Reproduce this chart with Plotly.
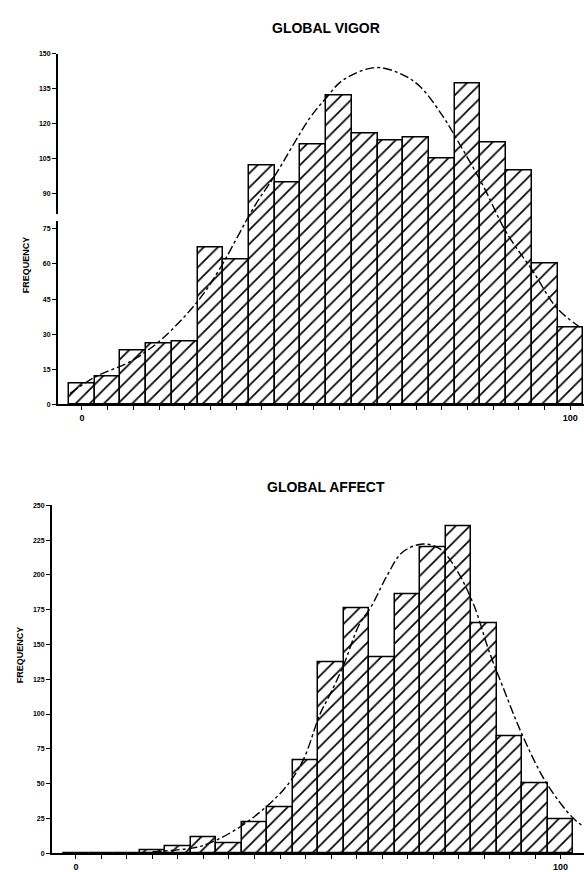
import plotly.graph_objects as go

# ---- data ----
BINS = list(range(20))                      # 20 class intervals, 0 .. 100
TICK_TEXT = ["0"] + [""] * 18 + ["100"]

VIGOR_FREQ = [9, 12, 23, 26, 27, 67, 62, 102, 95, 111,
              132, 116, 113, 114, 105, 137, 112, 100, 60, 33]
VIGOR_CURVE_X = [-0.47, 0.5, 1.93, 3.1, 4.5, 5.3, 6.73, 7.5, 8.87, 9.5,
                 10.16, 11.4, 12.37, 13.15, 14.05, 14.6, 15.6, 16.5, 17.55, 18.47, 19.4]
VIGOR_CURVE_Y = [4.6, 11.6, 18.6, 27.8, 44, 56.8, 85, 97.7, 122.5, 131,
                 138.7, 144, 141.5, 135.9, 123, 113, 93.6, 73.7, 56.8, 41.2, 32.8]

AFFECT_FREQ = [0, 0, 0, 2, 5, 11, 7, 22, 33, 67,
               137, 176, 141, 186, 220, 235, 165, 84, 50, 24]
AFFECT_CURVE_X = [3.0, 4.6, 5.25, 6.56, 8.13, 8.9, 9.57, 9.96, 10.5, 11.1,
                  11.6, 12.2, 12.8, 13.6, 14.27, 14.9, 15.6, 16.2, 16.7, 17.54, 18.46, 19.5, 19.92]
AFFECT_CURVE_Y = [1, 3.8, 7.3, 20.4, 45.4, 66.7, 100, 114, 135.5, 164,
                  178, 199.6, 216.3, 222.2, 218.7, 204.4, 178.3, 145, 121.3, 83.3, 50, 25, 19]

VIGOR_YTICKS = list(range(0, 151, 15))
AFFECT_YTICKS = list(range(0, 251, 25))

W, H = 584, 872

def px_x(p):
    return p / W

def px_y(p):
    return (H - p) / H

fig = go.Figure()

bar_style = dict(
    marker=dict(color="white",
                line=dict(color="black", width=1.5),
                pattern=dict(shape="/", fgcolor="black", bgcolor="white",
                             size=10, solidity=0.17, fgopacity=1)),
    width=1.0, showlegend=False, hoverinfo="x+y",
)
curve_style = dict(mode="lines", line=dict(color="black", width=1.4, dash="dashdot", shape="spline"),
                   showlegend=False, hoverinfo="skip")

fig.add_trace(go.Bar(x=BINS, y=VIGOR_FREQ, xaxis="x", yaxis="y", **bar_style))
fig.add_trace(go.Scatter(x=VIGOR_CURVE_X, y=VIGOR_CURVE_Y, xaxis="x", yaxis="y", **curve_style))
fig.add_trace(go.Bar(x=BINS, y=AFFECT_FREQ, xaxis="x2", yaxis="y2", **bar_style))
fig.add_trace(go.Scatter(x=AFFECT_CURVE_X, y=AFFECT_CURVE_Y, xaxis="x2", yaxis="y2", **curve_style))

tickfont_y = dict(family="Liberation Sans", size=7, color="#000000", weight="bold")
tickfont_x = dict(family="Liberation Sans", size=9, color="#000000", weight="bold")

common_x = dict(showline=True, linecolor="black", linewidth=2, ticks="outside",
                ticklen=4, tickwidth=1, tickcolor="black", showgrid=False, zeroline=False,
                tickvals=BINS, ticktext=TICK_TEXT, tickfont=tickfont_x)
common_y = dict(showline=True, linecolor="black", linewidth=2, ticks="outside",
                ticklen=4, tickwidth=1, tickcolor="black", showgrid=False, zeroline=False,
                tickfont=tickfont_y)

fig.update_layout(
    width=W, height=H,
    margin=dict(l=0, r=0, t=0, b=0),
    paper_bgcolor="white", plot_bgcolor="white",
    bargap=0,
    xaxis=dict(domain=[px_x(58), 1], range=[-0.93, 19.53], anchor="y", **common_x),
    yaxis=dict(domain=[px_y(404), px_y(50)], range=[0, 150], anchor="x",
               tickvals=VIGOR_YTICKS, **common_y),
    xaxis2=dict(domain=[px_x(52), 1], range=[-0.94, 19.92], anchor="y2", **common_x),
    yaxis2=dict(domain=[px_y(857), px_y(506)], range=[0, 250], anchor="x2",
                tickvals=AFFECT_YTICKS, **common_y),
    annotations=[
        dict(text="GLOBAL VIGOR", x=px_x(326), y=px_y(14.5), xref="paper", yref="paper",
             showarrow=False,
             font=dict(family="Liberation Sans", size=14, color="black", weight="bold")),
        dict(text="GLOBAL AFFECT", x=px_x(326), y=px_y(487.5), xref="paper", yref="paper",
             showarrow=False,
             font=dict(family="Liberation Sans", size=14, color="black", weight="bold")),
        dict(text="FREQUENCY", x=px_x(19), y=px_y(233), xref="paper", yref="paper",
             textangle=-90, showarrow=False,
             font=dict(family="Liberation Sans", size=9, color="black", weight="bold")),
        dict(text="FREQUENCY", x=px_x(13), y=px_y(688), xref="paper", yref="paper",
             textangle=-90, showarrow=False,
             font=dict(family="Liberation Sans", size=9, color="black", weight="bold")),
    ],
    shapes=[
        # small break in the upper frequency axis
        dict(type="rect", xref="paper", yref="paper",
             x0=px_x(55), x1=px_x(61), y0=px_y(219), y1=px_y(212),
             fillcolor="white", line=dict(width=0), layer="above"),
    ],
)

fig.write_html("out.html")
